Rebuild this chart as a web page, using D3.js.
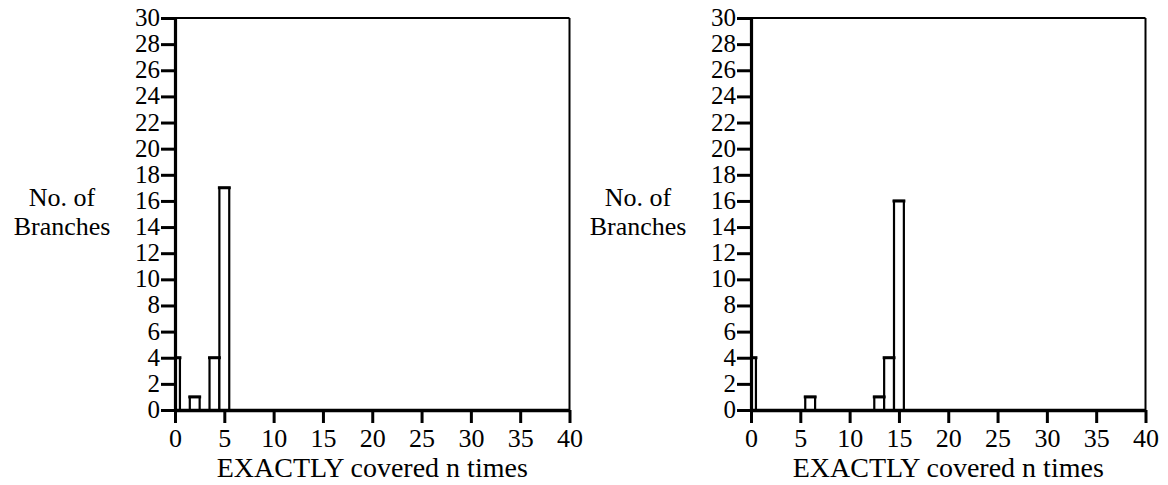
<!DOCTYPE html>
<html>
<head>
<meta charset="utf-8">
<script src="https://cdn.jsdelivr.net/npm/d3@7"></script>
<style>
  html, body { margin: 0; padding: 0; background: #fff; }
  svg { display: block; }
  svg text { font-family: "Liberation Serif", "DejaVu Serif", serif; fill: #000; }
</style>
</head>
<body>
<svg id="chart" width="1168" height="485"></svg>
<script>
// Histogram data: how many branches were covered exactly n times
const coverageLeft = [0, 2, 4, 5];
const branchesLeft = [4, 1, 4, 17];
const coverageRight = [0, 6, 13, 14, 15];
const branchesRight = [4, 1, 1, 4, 16];

const xTicks = [0, 5, 10, 15, 20, 25, 30, 35, 40];
const yTicks = d3.range(0, 31, 2);
const xTitle = "EXACTLY covered n times";
const yTitle = ["No. of", "Branches"];

const FONT = "'Liberation Serif', 'DejaVu Serif', serif";
const svg = d3.select("#chart");

const panels = [
  { x0: 175, n: coverageLeft, v: branchesLeft },
  { x0: 751, n: coverageRight, v: branchesRight }
];
const plotW = 394.5, plotTop = 18, plotBottom = 410;

panels.forEach((p, i) => {
  const g = svg.append("g");
  const x = d3.scaleLinear().domain([0, 40]).range([p.x0, p.x0 + plotW]);
  const y = d3.scaleLinear().domain([0, 30]).range([plotBottom, plotTop]);

  const clipId = "clip" + i;
  svg.append("defs").append("clipPath").attr("id", clipId)
    .append("rect").attr("x", x(0)).attr("y", plotTop - 5)
    .attr("width", plotW).attr("height", plotBottom - plotTop + 5);

  // bars: unit-width bins centred on each integer n
  const bars = g.append("g").attr("clip-path", `url(#${clipId})`);
  const data = p.n.map((n, k) => ({ n, v: p.v[k] }));
  bars.selectAll("path.side").data(data).join("path")
    .attr("class", "side")
    .attr("d", d => `M${x(d.n - 0.5)},${y(0)}V${y(d.v)}H${x(d.n + 0.5)}V${y(0)}`)
    .attr("fill", "#fff").attr("stroke", "#000").attr("stroke-width", 2.2);
  bars.selectAll("line.cap").data(data).join("line")
    .attr("class", "cap")
    .attr("x1", d => x(d.n - 0.5)).attr("x2", d => x(d.n + 0.5))
    .attr("y1", d => y(d.v)).attr("y2", d => y(d.v))
    .attr("stroke", "#000").attr("stroke-width", 3).attr("stroke-linecap", "square");

  // frame
  g.append("line").attr("x1", x(0)).attr("x2", x(40)).attr("y1", plotTop).attr("y2", plotTop)
    .attr("stroke", "#000").attr("stroke-width", 2);
  g.append("line").attr("x1", x(40)).attr("x2", x(40)).attr("y1", plotTop).attr("y2", plotBottom)
    .attr("stroke", "#000").attr("stroke-width", 2);

  // y axis
  const ya = g.append("g").attr("transform", `translate(${x(0)},0)`)
    .call(d3.axisLeft(y).tickValues(yTicks).tickSize(14).tickPadding(1).tickSizeOuter(0));
  ya.attr("font-family", FONT);
  ya.select(".domain").attr("stroke-width", 3.2);
  ya.selectAll(".tick line").attr("stroke-width", 3);
  ya.selectAll(".tick text").attr("font-size", 25).attr("dy", "0.3em");

  // x axis
  const xa = g.append("g").attr("transform", `translate(0,${plotBottom})`)
    .call(d3.axisBottom(x).tickValues(xTicks).tickSize(13).tickPadding(6).tickSizeOuter(0));
  xa.attr("font-family", FONT);
  xa.select(".domain").attr("stroke-width", 3.6);
  xa.selectAll(".tick line").attr("stroke-width", 3);
  xa.selectAll(".tick text").attr("font-size", 26).attr("dy", "0.71em");

  // titles
  g.append("text").attr("x", (x(0) + x(40)) / 2).attr("y", 477)
    .attr("text-anchor", "middle").attr("font-size", 28).text(xTitle);
  const yt = g.append("text").attr("text-anchor", "middle").attr("font-size", 26);
  yt.selectAll("tspan").data(yTitle).join("tspan")
    .attr("x", p.x0 - 113).attr("y", (d, k) => 206 + k * 29).text(d => d);
});
</script>
</body>
</html>
